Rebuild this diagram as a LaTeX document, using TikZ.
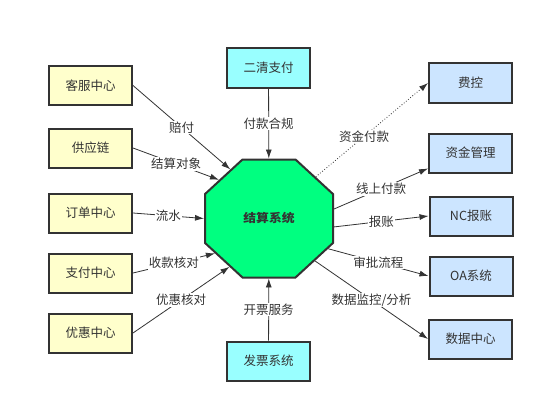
\documentclass[tikz,border=0pt]{standalone}
\usepackage{fontspec}
\setmainfont{Noto Sans CJK SC}
\usepackage{tikz}
\usetikzlibrary{
    arrows.meta,
    shapes.geometric,
    positioning
}
\definecolor{srcfill}{HTML}{FFFFCC}
\definecolor{extfill}{HTML}{99FFFF}
\definecolor{dstfill}{HTML}{CCE5FF}
\definecolor{corefill}{HTML}{00FF80}
\definecolor{ink}{HTML}{333333}

\begin{document}
\begin{tikzpicture}[x=1pt, y=-1pt, >={Latex[length=9pt, width=6pt]},
    font=\fontsize{12.5}{14}\selectfont, every node/.style={text=ink},
    box/.style={draw=ink, line width=2pt, minimum width=83pt, minimum height=39pt},
    src/.style={box, fill=srcfill},
    ext/.style={box, fill=extfill},
    dst/.style={box, fill=dstfill},
    core/.style={regular polygon, regular polygon sides=8, minimum size=135.3pt, inner sep=0pt,
        xscale=1.024, yscale=0.944, draw=ink, line width=2pt, fill=corefill,
        font=\fontsize{12.5}{14}\selectfont\bfseries},
    lbl/.style={fill=white, inner sep=1pt}]
                        \fill[white] (0, 0) rectangle (546, 412);
                        \node[src] (kf) at (90.5, 85.5) {客服中心};
                        \node[src] (gyl) at (90.5, 148) {供应链};
                        \node[src] (dd) at (90.5, 213) {订单中心};
                        \node[src] (zf) at (90.5, 273) {支付中心};
                        \node[src] (yh) at (90.5, 333) {优惠中心};
                        \node[ext] (eq) at (268.5, 68) {二清支付};
                        \node[ext] (fp) at (268.5, 361) {发票系统};
                        \node[dst] (fk) at (470.5, 83) {费控};
                        \node[dst] (zj) at (470.5, 153) {资金管理};
                        \node[dst] (nc) at (471, 216) {NC报账};
                        \node[dst] (oa) at (471, 276) {OA系统};
                        \node[dst] (sj) at (470.5, 339) {数据中心};
                        \node[core] (sys) at (269, 218.5) {结算系统};
                        \draw[ink, line width=0.8pt]
                        (kf.east) edge[->] node[lbl] {赔付} (sys.126)
                        (gyl.east) edge[->] node[lbl] {结算对象} (sys.140)
                        (dd.east) edge[->] node[lbl] {流水} (sys.180)
                        (zf.east) edge[->] node[lbl] {收款核对} (sys.215)
                        (yh.east) edge[->] node[lbl] {优惠核对} (sys.233)
                        (eq) edge[->] node[lbl] {付款合规} (sys)
                        (fp) edge[->] node[lbl] {开票服务} (sys)
                        (sys.44) edge[->, dotted] node[lbl, pos=0.43] {资金付款} (fk.west)
                        (sys.9) edge[->] node[lbl] {线上付款} (zj.200)
                        (sys.352) edge[->] node[lbl] {报账} (nc.west)
                        (sys.331) edge[->] node[lbl] {审批流程} (oa.west)
                        (sys.315) edge[->] node[lbl] {数据监控/分析} (sj.west);
                    \end{tikzpicture}
\end{document}
